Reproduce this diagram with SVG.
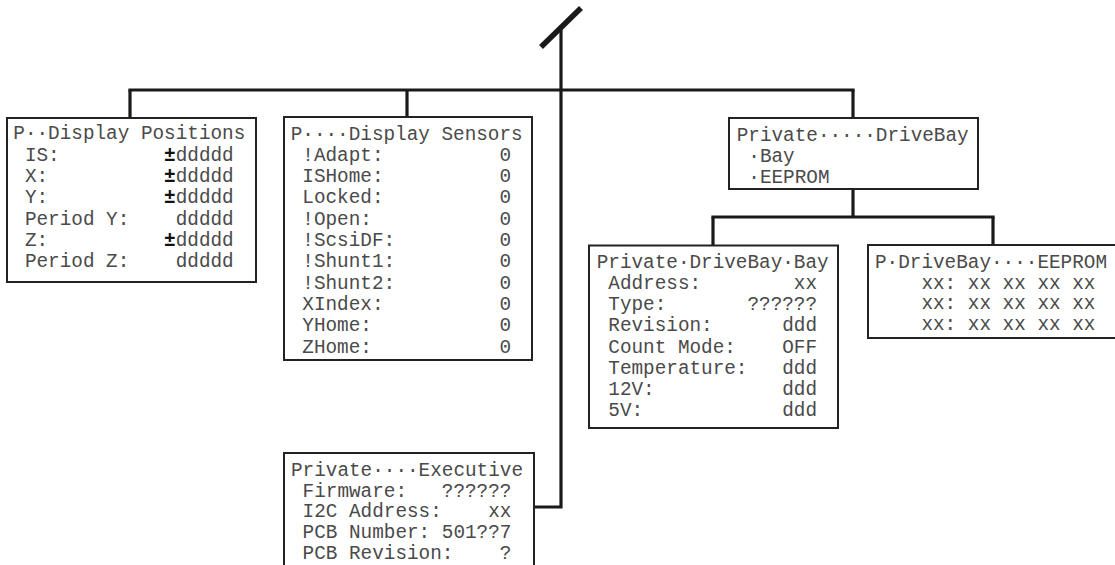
<svg xmlns="http://www.w3.org/2000/svg" width="1115" height="565" viewBox="0 0 1115 565">
  <style>
    .box { fill: #ffffff; stroke: #222222; stroke-width: 2; }
    .wire { fill: none; stroke: #1a1a1a; stroke-width: 3.2; stroke-linecap: butt; }
    .slash { fill: none; stroke: #1a1a1a; stroke-width: 5.5; stroke-linecap: butt; }
    text { font-family: "Liberation Mono", "Courier New", monospace; font-size: 19.33px; fill: #4a4a4a; white-space: pre; }
    .pm { font-weight: bold; fill: #111111; }
  </style>
  <rect width="1115" height="565" fill="#ffffff"/>

  <!-- menu tree wiring -->
  <g id="connectors">
    <path class="slash" d="M541,47 L581,8"/>
    <path class="wire" d="M561,29 V507 H534"/>
    <path class="wire" d="M128.4,90 H854.6"/>
    <path class="wire" d="M130,90 V118"/>
    <path class="wire" d="M407,90 V117"/>
    <path class="wire" d="M853,90 V118"/>
    <path class="wire" d="M853,189 V217"/>
    <path class="wire" d="M711.4,217 H994.6"/>
    <path class="wire" d="M713,217 V245"/>
    <path class="wire" d="M993,217 V245"/>
  </g>

  <g id="display-positions">
    <rect class="box" x="7" y="118" width="249" height="164"/>
    <text xml:space="preserve" x="13.3" y="139.3">P··Display Positions</text>
    <text xml:space="preserve" x="13.3" y="160.6"> IS:         <tspan class="pm">±</tspan>ddddd</text>
    <text xml:space="preserve" x="13.3" y="181.9"> X:          <tspan class="pm">±</tspan>ddddd</text>
    <text xml:space="preserve" x="13.3" y="203.2"> Y:          <tspan class="pm">±</tspan>ddddd</text>
    <text xml:space="preserve" x="13.3" y="224.5"> Period Y:    ddddd</text>
    <text xml:space="preserve" x="13.3" y="245.8"> Z:          <tspan class="pm">±</tspan>ddddd</text>
    <text xml:space="preserve" x="13.3" y="267.1"> Period Z:    ddddd</text>
  </g>

  <g id="display-sensors">
    <rect class="box" x="284" y="117" width="248" height="243"/>
    <text xml:space="preserve" x="290.7" y="139.5">P····Display Sensors</text>
    <text xml:space="preserve" x="290.7" y="160.8"> !Adapt:          0</text>
    <text xml:space="preserve" x="290.7" y="182.1"> ISHome:          0</text>
    <text xml:space="preserve" x="290.7" y="203.4"> Locked:          0</text>
    <text xml:space="preserve" x="290.7" y="224.7"> !Open:           0</text>
    <text xml:space="preserve" x="290.7" y="246.0"> !ScsiDF:         0</text>
    <text xml:space="preserve" x="290.7" y="267.3"> !Shunt1:         0</text>
    <text xml:space="preserve" x="290.7" y="288.6"> !Shunt2:         0</text>
    <text xml:space="preserve" x="290.7" y="309.9"> XIndex:          0</text>
    <text xml:space="preserve" x="290.7" y="331.2"> YHome:           0</text>
    <text xml:space="preserve" x="290.7" y="352.5"> ZHome:           0</text>
  </g>

  <g id="drivebay">
    <rect class="box" x="729" y="118" width="249" height="71"/>
    <text xml:space="preserve" x="736.7" y="141.2">Private·····DriveBay</text>
    <text xml:space="preserve" x="736.7" y="162.2"> ·Bay</text>
    <text xml:space="preserve" x="736.7" y="183.2"> ·EEPROM</text>
  </g>

  <g id="drivebay-bay">
    <rect class="box" x="589" y="245.5" width="249" height="182.5"/>
    <text xml:space="preserve" x="596.7" y="268">Private·DriveBay·Bay</text>
    <text xml:space="preserve" x="596.7" y="289.2"> Address:        xx</text>
    <text xml:space="preserve" x="596.7" y="310.3"> Type:       ??????</text>
    <text xml:space="preserve" x="596.7" y="331.4"> Revision:      ddd</text>
    <text xml:space="preserve" x="596.7" y="352.5"> Count Mode:    OFF</text>
    <text xml:space="preserve" x="596.7" y="373.6"> Temperature:   ddd</text>
    <text xml:space="preserve" x="596.7" y="394.7"> 12V:           ddd</text>
    <text xml:space="preserve" x="596.7" y="415.8"> 5V:            ddd</text>
  </g>

  <g id="drivebay-eeprom">
    <rect class="box" x="868" y="245" width="252" height="93"/>
    <text xml:space="preserve" x="875" y="268">P·DriveBay····EEPROM</text>
    <text xml:space="preserve" x="875" y="288.8">    xx: xx xx xx xx</text>
    <text xml:space="preserve" x="875" y="309.4">    xx: xx xx xx xx</text>
    <text xml:space="preserve" x="875" y="330">    xx: xx xx xx xx</text>
  </g>

  <g id="executive">
    <rect class="box" x="284" y="453" width="250" height="130"/>
    <text xml:space="preserve" x="291" y="476">Private····Executive</text>
    <text xml:space="preserve" x="291" y="496.8"> Firmware:   ??????</text>
    <text xml:space="preserve" x="291" y="517.4"> I2C Address:    xx</text>
    <text xml:space="preserve" x="291" y="538"> PCB Number: 501??7</text>
    <text xml:space="preserve" x="291" y="558.6"> PCB Revision:    ?</text>
  </g>
</svg>
